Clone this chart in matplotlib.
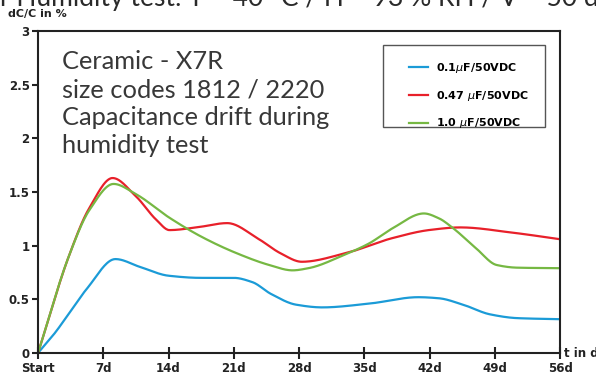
import numpy as np
import matplotlib
matplotlib.use("Agg")
import matplotlib.pyplot as plt
from matplotlib.patches import Rectangle

# capacitance drift (dC/C in %) over the humidity test, per capacitor value
days_01 = [0, 1.75, 3.5, 5.25, 8.3, 11, 14, 17.5, 21, 23, 25, 27.7, 30.5, 35.5, 40.8, 43, 45.6, 48.5, 51.4, 56]
drift_01 = [0, 0.18, 0.39, 0.60, 0.875, 0.80, 0.72, 0.70, 0.70, 0.66, 0.55, 0.45, 0.425, 0.46, 0.52, 0.51, 0.45, 0.36, 0.325, 0.315]

days_047 = [0, 3.3, 5.5, 8.0, 10.5, 12.7, 14.1, 17, 20.3, 23.7, 26, 28.3, 33, 38, 42, 45.3, 51, 56]
drift_047 = [0, 0.90, 1.35, 1.63, 1.46, 1.24, 1.145, 1.17, 1.21, 1.06, 0.93, 0.85, 0.93, 1.07, 1.146, 1.17, 1.12, 1.06]

days_10 = [0, 3.3, 5.5, 8.1, 10.5, 14.1, 17.6, 21.3, 24.8, 27.3, 29, 33, 35.5, 38, 41.4, 43, 44.5, 47, 49.2, 51.4, 56]
drift_10 = [0, 0.90, 1.33, 1.575, 1.48, 1.26, 1.08, 0.93, 0.82, 0.77, 0.79, 0.92, 1.02, 1.16, 1.30, 1.255, 1.165, 0.975, 0.82, 0.795, 0.79]

labels = ["0.1$\\mu$F/50VDC", "0.47 $\\mu$F/50VDC", "1.0 $\\mu$F/50VDC"]
colors = ["#1b9bd7", "#e8202a", "#76b843"]

tick_days = [0, 7, 14, 21, 28, 35, 42, 49, 56]
tick_names = ["Start", "7d", "14d", "21d", "28d", "35d", "42d", "49d", "56d"]


def pchip(x, y, xs):
    # monotone cubic so the drawn curve stays smooth between readings
    x = np.asarray(x, float)
    y = np.asarray(y, float)
    h = np.diff(x)
    d = np.diff(y) / h
    m = np.zeros_like(y)
    for i in range(1, len(x) - 1):
        if d[i - 1] * d[i] > 0:
            w1 = 2 * h[i] + h[i - 1]
            w2 = h[i] + 2 * h[i - 1]
            m[i] = (w1 + w2) / (w1 / d[i - 1] + w2 / d[i])
    m[0] = d[0]
    m[-1] = d[-1]
    idx = np.clip(np.searchsorted(x, xs) - 1, 0, len(h) - 1)
    t = (xs - x[idx]) / h[idx]
    h00 = 2 * t**3 - 3 * t**2 + 1
    h10 = t**3 - 2 * t**2 + t
    h01 = -2 * t**3 + 3 * t**2
    h11 = t**3 - t**2
    return h00 * y[idx] + h10 * h[idx] * m[idx] + h01 * y[idx + 1] + h11 * h[idx] * m[idx + 1]


fig = plt.figure(figsize=(5.96, 3.78), dpi=100)
ax = fig.add_axes([0.0638, 0.0661, 0.8758, 0.852])

xs = np.linspace(0, 56, 600)
for dd, vv, lab, c in zip([days_01, days_047, days_10], [drift_01, drift_047, drift_10], labels, colors):
    ax.plot(xs, pchip(dd, vv, xs), color=c, lw=1.6, label=lab)

ax.set_xlim(0, 56)
ax.set_ylim(0, 3)
ax.set_xticks(tick_days)
ax.set_xticklabels(tick_names)
ax.set_yticks([0, 0.5, 1, 1.5, 2, 2.5, 3])
ax.set_yticklabels(["0", "0.5", "1", "1.5", "2", "2.5", "3"])
for s in ax.spines.values():
    s.set_linewidth(1.5)
    s.set_color("#222222")
ax.tick_params(axis="x", direction="inout", length=9, width=1.5, color="#222222", pad=2)
ax.tick_params(axis="y", direction="out", length=4, width=1.5, color="#222222", pad=2)
for t in ax.get_xticklabels() + ax.get_yticklabels():
    t.set_fontweight("bold")
    t.set_fontsize(8.5)
    t.set_color("#222222")

# legend entries without their own frame; the box is drawn separately
leg = ax.legend(loc="upper left", bbox_to_anchor=(0.701, 0.925), frameon=False, borderpad=0,
                handlelength=1.7, handletextpad=0.65, labelspacing=1.25,
                prop={"weight": "bold", "size": 8})
ax.add_patch(Rectangle((0.661, 0.702), 0.310, 0.255, transform=ax.transAxes, fill=False,
                       edgecolor="#555555", lw=1.0, zorder=5))

ax.text(0.046, 0.94, "Ceramic - X7R\nsize codes 1812 / 2220\nCapacitance drift during\nhumidity test",
        transform=ax.transAxes, va="top", ha="left", family="Lato", fontweight="normal",
        fontsize=18.3, linespacing=1.25, color="#383838")

fig.text(0.013, 0.963, "dC/C in %", fontsize=8, fontweight="bold", color="#222222", va="center")
fig.text(0.946, 0.0635, "t in d", fontsize=8.5, fontweight="bold", color="#222222", va="center")
fig.text(0.0, 0.984, "r Humidity test: T = 40 °C / H = 93 % RH / V = 50 d", fontsize=19,
         family="Lato", fontweight="normal", color="#2a2a2a", va="baseline")

fig.savefig("out.png", dpi=100)
